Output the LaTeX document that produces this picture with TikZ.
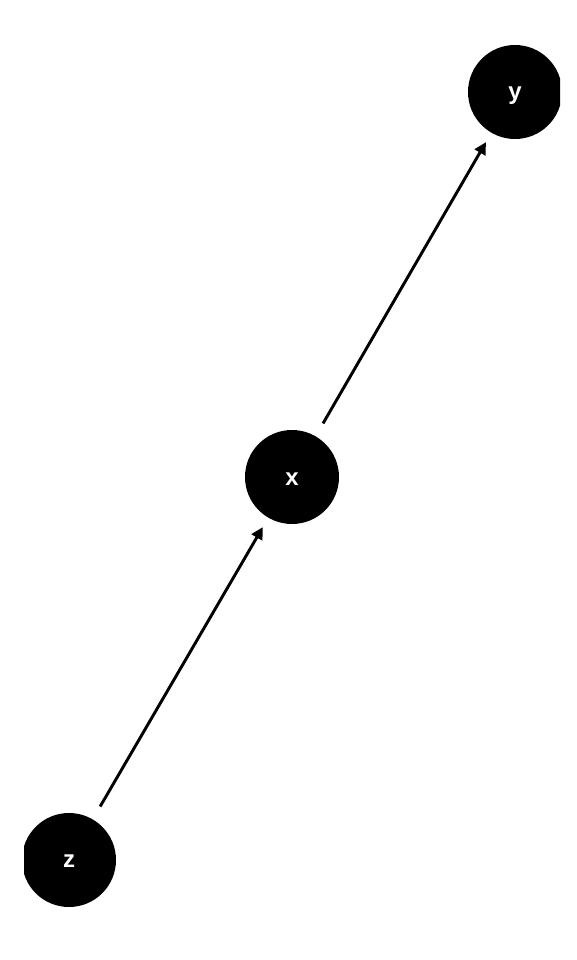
\documentclass[tikz,border=0pt]{standalone}
\usepackage{fontspec}
\setmainfont{Liberation Sans}
\usetikzlibrary{arrows.meta}
\begin{document}
\begin{tikzpicture}[x=0.75pt,y=-0.75pt,
  vnode/.style={circle,fill=black,minimum size=70.5pt,inner sep=0pt,text=white,font=\bfseries\fontsize{18}{20}\selectfont},
  edge/.style={line width=2.2pt,-{Triangle[length=9pt,width=9pt]},shorten <=11pt,shorten >=8pt}]
\useasboundingbox (0,0) rectangle (576,960);
\begin{scope}
\clip (24,0) rectangle (560,960);
\node[vnode] (y) at (515,92) {};
\node[vnode] (x) at (292,477) {};
\node[vnode] (z) at (69,860) {};
\end{scope}
\node[text=white,font=\bfseries\fontsize{18}{20}\selectfont] (ly) at (515,96) {y};
\node[text=white,font=\bfseries\fontsize{18}{20}\selectfont] (lx) at (292,479) {x};
\node[text=white,font=\bfseries\fontsize{18}{20}\selectfont] (lz) at (69,861) {z};
\draw[edge] (z) -- (x);
\draw[edge] (x) -- (y);
\end{tikzpicture}
\end{document}
